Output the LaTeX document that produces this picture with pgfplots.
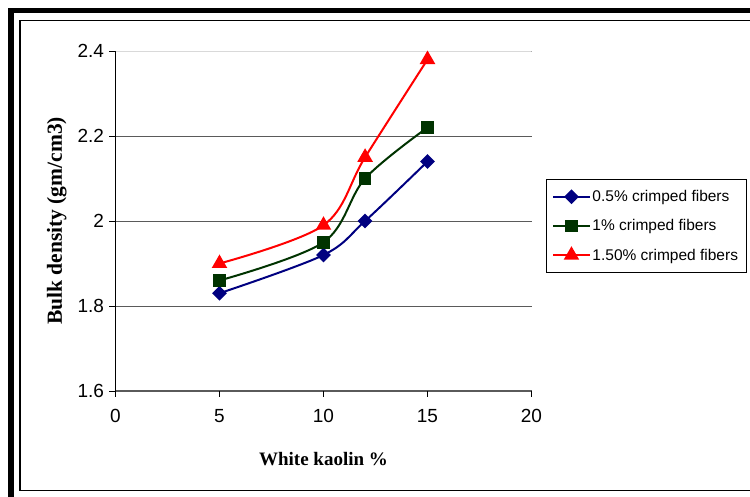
\documentclass[border=0pt]{standalone}
\usepackage{pgfplots}
\pgfplotsset{compat=1.18}
\usepackage{fontspec}
\setmainfont{Liberation Serif}
\newfontfamily\arial{Liberation Sans}
\definecolor{navy}{RGB}{0,0,128}
\definecolor{dgreen}{RGB}{0,51,0}
\definecolor{gridc}{RGB}{90,90,90}
\begin{document}
\begin{tikzpicture}[x=1pt,y=1pt]
\useasboundingbox (0,0) rectangle (750,497);
% outer borders
\fill[black] (8,484) rectangle (750,489);
\fill[black] (8,0) rectangle (14,489);
\draw[line width=1.5pt] (750,476.5) -- (20,476.5) -- (20,6.5) -- (750,6.5);
\begin{axis}[
  at={(115.5pt,106pt)}, anchor=south west,
  scale only axis, width=416pt, height=340pt,
  xmin=0, xmax=20, ymin=1.6, ymax=2.4,
  xtick={0,5,10,15,20}, ytick={1.6,1.8,2.0,2.2,2.4},
  yticklabels={1.6,1.8,2,2.2,2.4},
  axis x line*=bottom, axis y line*=left,
  x axis line style={gridc, line width=1pt, -},
  y axis line style={black, line width=1pt, -},
  tick align=outside, major tick length=6pt,
  tick style={black, line width=0.8pt},
  ymajorgrids, grid style={gridc, line width=0.9pt},
  /pgf/number format/assume math mode=true,
  ticklabel style={font=\arial\fontsize{19}{22}\selectfont},
  xticklabel style={yshift=-9pt},
  yticklabel style={xshift=-2pt},
  xlabel={\bfseries White kaolin \%},
  ylabel={\bfseries Bulk density (gm/cm3)},
  label style={font=\fontsize{19}{22}\selectfont},
  xlabel style={yshift=-22pt},
  ylabel style={yshift=4pt, font=\fontsize{21.5}{24}\selectfont},
  legend style={at={(1.035,0.6235)}, anchor=north west, draw=black, line width=0.8pt,
    font=\arial\fontsize{15.5}{18.5}\selectfont, row sep=12.5pt,
    inner xsep=6pt, inner ysep=9pt},
  legend cell align=left,
  legend image code/.code={\draw[mark repeat=2,mark phase=2,#1] plot coordinates {(0pt,0pt) (18pt,0pt) (36pt,0pt)};},
]
\draw[black!15, line width=1pt] (axis cs:0,2.4) -- (axis cs:20,2.4);
\addplot[navy, line width=2pt, smooth, tension=0.55, mark=square*, mark size=4.2pt, mark options={rotate=45, solid}]
  coordinates {(5,1.83) (10,1.92) (12,2.0) (15,2.14)};
\addlegendentry{0.5\% crimped fibers}
\addplot[dgreen, line width=2pt, smooth, tension=0.55, mark=square*, mark size=5.3pt]
  coordinates {(5,1.86) (10,1.95) (12,2.10) (15,2.22)};
\addlegendentry{1\% crimped fibers}
\addplot[red, line width=2pt, smooth, tension=0.55, mark=triangle*, mark size=7pt]
  coordinates {(5,1.90) (10,1.99) (12,2.15) (15,2.38)};
\addlegendentry{1.50\% crimped fibers}
\end{axis}
\end{tikzpicture}
\end{document}
